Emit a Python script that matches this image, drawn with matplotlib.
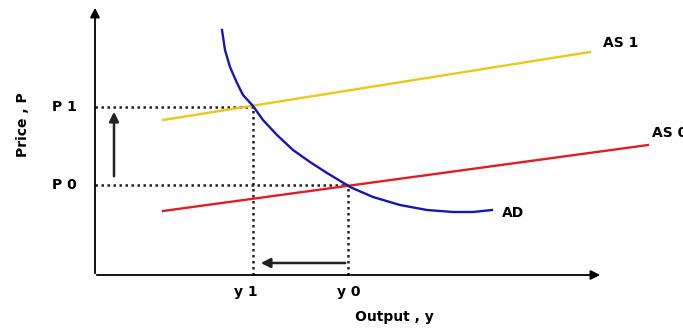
import matplotlib
matplotlib.use("Agg")
import matplotlib.pyplot as plt

# levels (origin of the diagram at 0,0)
p_levels = [90, 168]
p_labels = ["P 0", "P 1"]
y_levels = [253, 158]
y_labels = ["y 0", "y 1"]

as0_x = [68, 553]
as0_y = [64, 130]
as1_x = [68, 495]
as1_y = [155, 223]

ad_x = [127, 130, 135, 142, 148, 158, 168, 182, 198, 215, 232, 252,
        255, 278, 305, 332, 358, 378, 397]
ad_y = [245, 225, 208, 192, 180, 169, 155, 140, 125, 113, 102, 90,
        88, 78, 70, 65, 63, 63, 65]

fig = plt.figure(figsize=(6.83, 3.29), dpi=100)
ax = fig.add_axes([0, 0, 1, 1])
ax.set_xlim(-95, 588)
ax.set_ylim(-54, 275)
ax.axis("off")

# axes with arrow heads
ax.annotate("", xy=(0, 270), xytext=(0, -1),
            arrowprops=dict(arrowstyle="-|>", color="black", lw=1.3, mutation_scale=14))
ax.annotate("", xy=(508, 0), xytext=(-1, 0),
            arrowprops=dict(arrowstyle="-|>", color="black", lw=1.3, mutation_scale=14))

# dotted guides
dots = (0, (1, 1.4))
for p, yv in zip(p_levels, y_levels):
    ax.plot([0, yv], [p, p], color="#222222", lw=1.8, linestyle=dots)
    ax.plot([yv, yv], [0, p], color="#222222", lw=1.8, linestyle=dots)

# curves
ax.plot(as1_x, as1_y, color="#E9C81C", lw=1.7)
ax.plot(as0_x, as0_y, color="#DD1F26", lw=1.7)
ax.plot(ad_x, ad_y, color="#1616B4", lw=1.7, solid_joinstyle="round")

# shift arrows
ax.annotate("", xy=(19, 166), xytext=(19, 96),
            arrowprops=dict(arrowstyle="-|>", color="#222222", lw=1.8, mutation_scale=14))
ax.annotate("", xy=(163, 12), xytext=(253, 12),
            arrowprops=dict(arrowstyle="-|>", color="#222222", lw=1.8, mutation_scale=14))

fs = 10
for p, lab in zip(p_levels, p_labels):
    ax.text(-31, p, lab, ha="center", va="center", fontsize=fs, fontweight="bold")
for yv, lab in zip(y_levels, y_labels):
    ax.text(yv - 7 if lab == "y 1" else yv + 1, -17, lab, ha="center", va="center",
            fontsize=fs, fontweight="bold")

ax.text(299, -42, "Output , y", ha="center", va="center", fontsize=fs, fontweight="bold")
ax.text(-72, 150, "Price , P", ha="center", va="center", rotation=90, fontsize=fs, fontweight="bold")
ax.text(508, 232, "AS 1", ha="left", va="center", fontsize=fs, fontweight="bold")
ax.text(557, 142, "AS 0", ha="left", va="center", fontsize=fs, fontweight="bold")
ax.text(407, 62, "AD", ha="left", va="center", fontsize=fs, fontweight="bold")

fig.savefig("out.png", dpi=100)
